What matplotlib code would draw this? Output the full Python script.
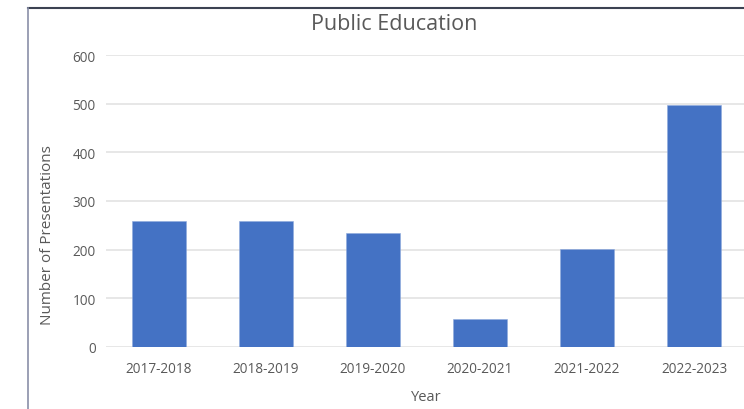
import matplotlib
matplotlib.use("Agg")
import matplotlib.pyplot as plt
from matplotlib.lines import Line2D

# 데이터
years = ["2017-2018", "2018-2019", "2019-2020", "2020-2021", "2021-2022", "2022-2023"]
presentations = [258, 259, 234, 57, 201, 498]
y_ticks = [0, 100, 200, 300, 400, 500, 600]

plt.rcParams['font.family'] = ['Open Sans', 'DejaVu Sans']
text_color = '#595959'
bar_color = '#4472C4'
grid_color = '#e3e3e3'

W, H = 744, 410
fig = plt.figure(figsize=(W / 100, H / 100), dpi=100)

# 플롯 영역 (픽셀 기준으로 배치, 오른쪽은 잘린 형태)
left, right, top, bottom = 105.5, 747.5, 56, 348
ax = fig.add_axes([left / W, (H - bottom) / H, (right - left) / W, (bottom - top) / H])

x = range(len(years))
ax.bar(x, presentations, width=0.5, color=bar_color, edgecolor='#8faadc', linewidth=0.4, zorder=3)

ax.set_xlim(-0.5, len(years) - 0.5)
ax.set_ylim(0, 600)
ax.set_yticks(y_ticks)
ax.set_xticks(list(x))
ax.set_xticklabels(years)

for s in ax.spines.values():
    s.set_visible(False)
ax.yaxis.grid(True, color=grid_color, linewidth=1.2, zorder=0)
ax.set_axisbelow(True)
ax.tick_params(axis='both', length=0, colors=text_color, labelsize=9.8)
ax.tick_params(axis='y', pad=7)
ax.tick_params(axis='x', pad=10)

# 제목과 축 제목
fig.text(394.5 / W, (H - 24) / H, "Public Education", ha='center', va='center',
         fontsize=15.5, color=text_color)
fig.text(426 / W, (H - 398) / H, "Year", ha='center', va='center',
         fontsize=10.5, color=text_color)
fig.text(48 / W, (H - 235) / H, "Number of Presentations", ha='center', va='center',
         rotation=90, fontsize=11, color=text_color)

# 차트 테두리
fig.add_artist(Line2D([28 / W, 1], [(H - 9) / H, (H - 9) / H], color='#3b4252', linewidth=1.5,
                      transform=fig.transFigure))
fig.add_artist(Line2D([28 / W, 28 / W], [0, (H - 9) / H], color='#8a8fa8', linewidth=1.2,
                      transform=fig.transFigure))

fig.savefig("out.png", dpi=100)
